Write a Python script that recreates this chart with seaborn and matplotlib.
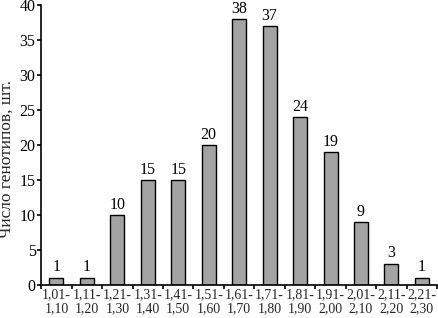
import matplotlib
matplotlib.use("Agg")
import matplotlib.pyplot as plt
import seaborn as sns
import pandas as pd
import numpy as np
from matplotlib.ticker import FixedLocator

categories = ["1,01-\n1,10", "1,11-\n1,20", "1,21-\n1,30", "1,31-\n1,40", "1,41-\n1,50",
              "1,51-\n1,60", "1,61-\n1,70", "1,71-\n1,80", "1,81-\n1,90", "1,91-\n2,00",
              "2,01-\n2,10", "2,11-\n2,20", "2,21-\n2,30"]
counts = [1, 1, 10, 15, 15, 20, 38, 37, 24, 19, 9, 3, 1]
yticks = [0, 5, 10, 15, 20, 25, 30, 35, 40]
ylabel = "Число генотипов, шт."

sns.set_theme(style="white")
plt.rcParams['font.family'] = ['Liberation Serif', 'DejaVu Serif']

df = pd.DataFrame({"cat": categories, "n": counts})
fig = plt.figure(figsize=(4.38, 3.18), dpi=100)
ax = fig.add_axes([0.094, 0.104, 0.904, 0.88])
sns.barplot(data=df, x="cat", y="n", color="#a3a3a3", edgecolor="black",
            linewidth=1.0, width=0.46, saturation=1, ax=ax)
for i, v in enumerate(counts):
    ax.text(i, v + 0.35, str(v), ha="center", va="bottom", fontsize=11.5,
            color="black", clip_on=False)

ax.set_xlim(-0.5, len(categories) - 0.5)
ax.set_ylim(0, 40)
ax.set_yticks(yticks)
ax.set_xlabel("")
ax.set_ylabel(ylabel, fontsize=12.5)
ax.yaxis.set_label_coords(-0.066, 0.45)
for s in ["top", "right"]:
    ax.spines[s].set_visible(False)
for s in ["left", "bottom"]:
    ax.spines[s].set_color("black")
    ax.spines[s].set_linewidth(1.2)
ax.tick_params(axis="y", length=3, width=1.2, labelsize=11.5, pad=1, colors="black", direction="out", left=True)
ax.tick_params(axis="x", which="major", length=0, labelsize=10, pad=2.5)
ax.xaxis.set_minor_locator(FixedLocator(np.arange(-0.5, len(categories), 1.0)))
ax.tick_params(axis="x", which="minor", length=3, width=1.2, direction="out", bottom=True, color="black")
for lab in ax.get_xticklabels():
    lab.set_linespacing(1.05)
fig.savefig("out.png", dpi=100)
